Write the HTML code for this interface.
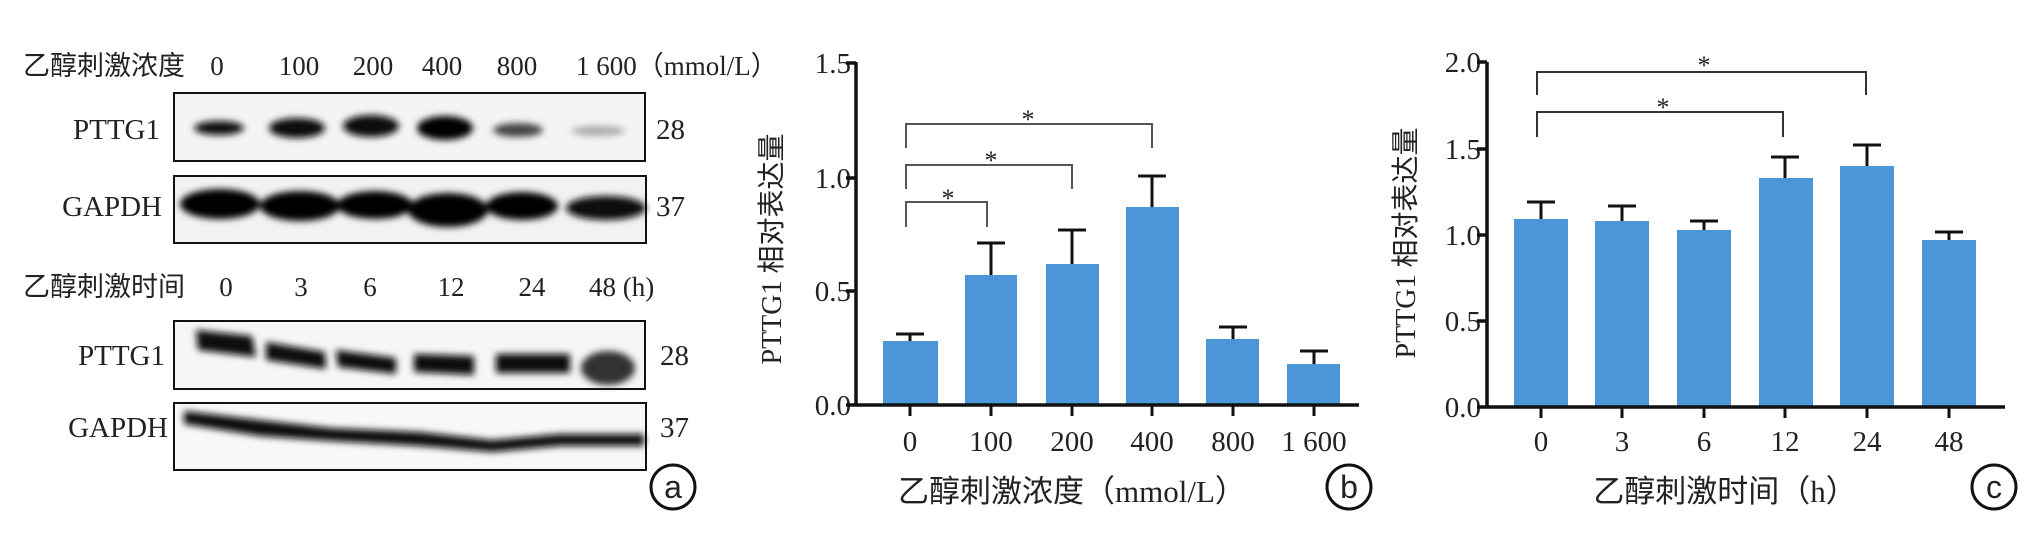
<!DOCTYPE html>
<html><head><meta charset="utf-8"><style>
html,body{margin:0;padding:0;background:#fff;}
svg{display:block;}
text{font-family:"Liberation Serif","Noto Serif CJK SC","Noto Sans CJK SC",serif;fill:#222;}
.cj{font-family:"Liberation Serif","Noto Sans CJK SC",sans-serif;}
</style></head><body>
<svg width="2040" height="533" viewBox="0 0 2040 533" xmlns="http://www.w3.org/2000/svg">
<defs>
<filter id="bl" x="-20%" y="-50%" width="140%" height="200%"><feGaussianBlur stdDeviation="3.5"/></filter>
</defs>
<!-- Panel a -->
<g font-size="27">
<text x="23" y="75" class="cj">乙醇刺激浓度</text>
<text x="217" y="75" text-anchor="middle">0</text>
<text x="299" y="75" text-anchor="middle">100</text>
<text x="373" y="75" text-anchor="middle">200</text>
<text x="442" y="75" text-anchor="middle">400</text>
<text x="517" y="75" text-anchor="middle">800</text>
<text x="576" y="75" class="cj">1 600（mmol/L）</text>
<text x="23" y="296" class="cj">乙醇刺激时间</text>
<text x="226" y="296" text-anchor="middle">0</text>
<text x="301" y="296" text-anchor="middle">3</text>
<text x="370" y="296" text-anchor="middle">6</text>
<text x="451" y="296" text-anchor="middle">12</text>
<text x="532" y="296" text-anchor="middle">24</text>
<text x="589" y="296">48 (h)</text>
</g>
<g font-size="29">
<text x="160" y="139" text-anchor="end">PTTG1</text>
<text x="162" y="216" text-anchor="end">GAPDH</text>
<text x="165" y="365" text-anchor="end">PTTG1</text>
<text x="168" y="437" text-anchor="end">GAPDH</text>
<text x="656" y="139">28</text>
<text x="656" y="216">37</text>
<text x="660" y="365">28</text>
<text x="660" y="437">37</text>
</g>
<rect x="174" y="93" width="471" height="68" fill="#f4f4f4" stroke="#111" stroke-width="2"/>
<rect x="174" y="176" width="472" height="67" fill="#f2f2f2" stroke="#111" stroke-width="2"/>
<rect x="174" y="321" width="471" height="68" fill="#f6f6f6" stroke="#111" stroke-width="2"/>
<rect x="174" y="403" width="472" height="67" fill="#f8f8f8" stroke="#111" stroke-width="2"/>
<g filter="url(#bl)">
<ellipse cx="219" cy="128" rx="25" ry="7" fill="#111"/>
<ellipse cx="297" cy="128" rx="28" ry="10" fill="#0a0a0a"/>
<ellipse cx="371" cy="126" rx="28" ry="11" fill="#0a0a0a"/>
<ellipse cx="445" cy="128" rx="28" ry="12" fill="#050505"/>
<ellipse cx="518" cy="130" rx="25" ry="7" fill="#444"/>
<ellipse cx="598" cy="131" rx="27" ry="5" fill="#aaa"/>
<ellipse cx="220" cy="204" rx="40" ry="15" fill="#050505"/>
<ellipse cx="300" cy="206" rx="40" ry="15" fill="#050505"/>
<ellipse cx="375" cy="205" rx="38" ry="14" fill="#050505"/>
<ellipse cx="448" cy="210" rx="40" ry="17" fill="#050505"/>
<ellipse cx="522" cy="206" rx="36" ry="14" fill="#050505"/>
<ellipse cx="606" cy="208" rx="40" ry="12" fill="#080808"/>
<path d="M196 330 L252 336 L256 357 L198 350 Z" fill="#111"/>
<path d="M266 342 L325 352 L326 369 L266 360 Z" fill="#111"/>
<path d="M336 350 L396 358 L396 374 L338 367 Z" fill="#111"/>
<path d="M414 354 L474 356 L474 375 L414 372 Z" fill="#0a0a0a"/>
<path d="M496 354 L570 354 L570 373 L496 373 Z" fill="#0a0a0a"/>
<ellipse cx="608" cy="368" rx="27" ry="17" fill="#333"/>
<path d="M184 411 L260 420 L330 428 L420 432 L492 440 L560 434 L644 434 L644 446 L560 446 L492 452 L420 446 L330 441 L260 436 L184 424 Z" fill="#0a0a0a"/>
</g>
<circle cx="673" cy="487" r="22" fill="#fff" stroke="#111" stroke-width="3"/>
<text x="673" y="498" text-anchor="middle" font-size="32" style="font-family:'Liberation Sans',sans-serif">a</text>

<!-- Panel b -->
<g font-size="29">
<text x="851" y="73" text-anchor="end">1.5</text>
<text x="851" y="188" text-anchor="end">1.0</text>
<text x="851" y="301" text-anchor="end">0.5</text>
<text x="851" y="415" text-anchor="end">0.0</text>
<text x="910" y="451" text-anchor="middle">0</text>
<text x="991" y="451" text-anchor="middle">100</text>
<text x="1072" y="451" text-anchor="middle">200</text>
<text x="1152" y="451" text-anchor="middle">400</text>
<text x="1233" y="451" text-anchor="middle">800</text>
<text x="1314" y="451" text-anchor="middle">1 600</text>
</g>
<text x="1072" y="502" text-anchor="middle" font-size="31" class="cj">乙醇刺激浓度（mmol/L）</text>
<text transform="translate(781,249) rotate(-90)" text-anchor="middle" font-size="28" class="cj">PTTG1 相对表达量</text>
<g fill="#4a96d6">
<rect x="883" y="341" width="55" height="64"/>
<rect x="965" y="275" width="52" height="130"/>
<rect x="1046" y="264" width="53" height="141"/>
<rect x="1126" y="207" width="53" height="198"/>
<rect x="1206" y="339" width="53" height="66"/>
<rect x="1287" y="364" width="53" height="41"/>
</g>
<g stroke="#111" stroke-width="3" fill="none">
<path d="M910 341V334M896 334H924"/>
<path d="M991 275V243M977 243H1005"/>
<path d="M1072 264V230M1058 230H1086"/>
<path d="M1152 207V176M1138 176H1166"/>
<path d="M1233 339V327M1219 327H1247"/>
<path d="M1314 364V351M1300 351H1328"/>
<path d="M856 62V405M846 63H856M846 178H856M846 291H856M846 405H1359" stroke-width="3.5"/>
<path d="M910 405V416M991 405V416M1072 405V416M1152 405V416M1233 405V416M1314 405V416"/>
</g>
<g stroke="#555" stroke-width="2" fill="none">
<path d="M906 148V124H1152V148"/>
<path d="M906 189V165H1072V189"/>
<path d="M906 227V202H987V227"/>
</g>
<g font-size="26" text-anchor="middle">
<text x="1028" y="128">*</text>
<text x="991" y="169">*</text>
<text x="948" y="207">*</text>
</g>
<circle cx="1349" cy="487" r="22" fill="#fff" stroke="#111" stroke-width="3"/>
<text x="1349" y="498" text-anchor="middle" font-size="32" style="font-family:'Liberation Sans',sans-serif">b</text>

<!-- Panel c -->
<g font-size="29">
<text x="1481" y="72" text-anchor="end">2.0</text>
<text x="1481" y="159" text-anchor="end">1.5</text>
<text x="1481" y="245" text-anchor="end">1.0</text>
<text x="1481" y="331" text-anchor="end">0.5</text>
<text x="1481" y="417" text-anchor="end">0.0</text>
<text x="1541" y="451" text-anchor="middle">0</text>
<text x="1622" y="451" text-anchor="middle">3</text>
<text x="1704" y="451" text-anchor="middle">6</text>
<text x="1785" y="451" text-anchor="middle">12</text>
<text x="1867" y="451" text-anchor="middle">24</text>
<text x="1949" y="451" text-anchor="middle">48</text>
</g>
<text x="1725" y="502" text-anchor="middle" font-size="31" class="cj">乙醇刺激时间（h）</text>
<text transform="translate(1415,243) rotate(-90)" text-anchor="middle" font-size="28" class="cj">PTTG1 相对表达量</text>
<g fill="#4a96d6">
<rect x="1514" y="219" width="54" height="188"/>
<rect x="1595" y="221" width="54" height="186"/>
<rect x="1677" y="230" width="54" height="177"/>
<rect x="1759" y="178" width="54" height="229"/>
<rect x="1840" y="166" width="54" height="241"/>
<rect x="1922" y="240" width="54" height="167"/>
</g>
<g stroke="#111" stroke-width="3" fill="none">
<path d="M1541 219V202M1527 202H1555"/>
<path d="M1622 221V206M1608 206H1636"/>
<path d="M1704 230V221M1690 221H1718"/>
<path d="M1785 178V157M1771 157H1799"/>
<path d="M1867 166V145M1853 145H1881"/>
<path d="M1949 240V232M1935 232H1963"/>
<path d="M1487 62V407M1477 62H1487M1477 149H1487M1477 235H1487M1477 321H1487M1477 407H2005" stroke-width="3.5"/>
<path d="M1541 407V418M1622 407V418M1704 407V418M1785 407V418M1867 407V418M1949 407V418"/>
</g>
<g stroke="#333" stroke-width="2" fill="none">
<path d="M1537 95V72H1866V95"/>
<path d="M1537 137V112H1783V137"/>
</g>
<g font-size="26" text-anchor="middle">
<text x="1704" y="74">*</text>
<text x="1663" y="116">*</text>
</g>
<circle cx="1994" cy="487" r="22" fill="#fff" stroke="#111" stroke-width="3"/>
<text x="1994" y="498" text-anchor="middle" font-size="32" style="font-family:'Liberation Sans',sans-serif">c</text>
</svg>
</body></html>
